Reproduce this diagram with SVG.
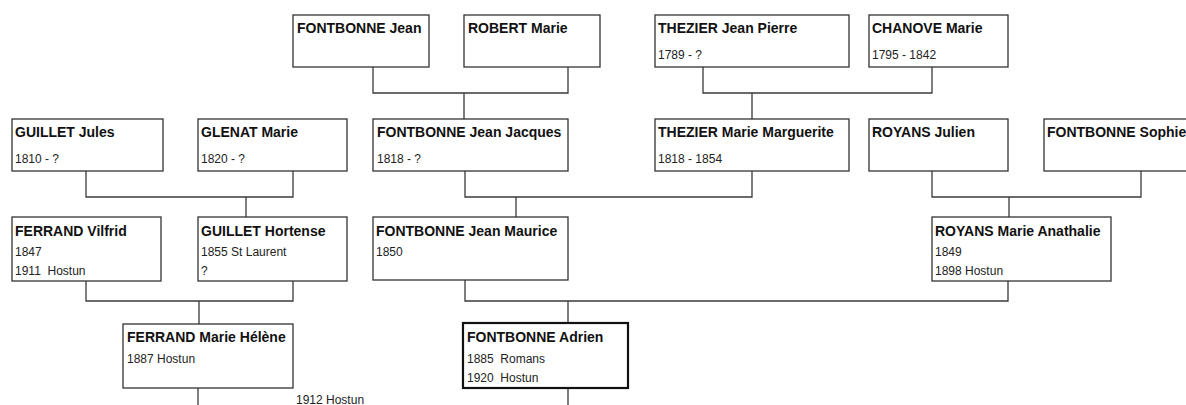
<svg xmlns="http://www.w3.org/2000/svg" width="1186" height="405" viewBox="0 0 1186 405">
  <style>
    .box { fill: #ffffff; stroke: #333333; stroke-width: 1.3; }
    .box.main { stroke: #111111; stroke-width: 2.2; }
    .name { font-family: "Liberation Sans", Arial, sans-serif; font-weight: bold; font-size: 14px; fill: #111111; }
    .info { font-family: "Liberation Sans", Arial, sans-serif; font-size: 12px; fill: #222222; white-space: pre; }
    .link { fill: none; stroke: #3a3a3a; stroke-width: 1.3; }
  </style>
  <rect width="1186" height="405" fill="#ffffff"/>

  <!-- family links: parents joined by a bar, a drop to the child -->
  <g id="connectors">
    <path class="link" d="M373,67 V93 H568 V67 M464,93 V119"/>
    <path class="link" d="M703,67 V93 H932 V67 M752,93 V119"/>
    <path class="link" d="M86,171 V197 H293 V171 M246,197 V217"/>
    <path class="link" d="M465,171 V197 H752 V171 M516,197 V217"/>
    <path class="link" d="M932,171 V197 H1141 V171 M1009,197 V217"/>
    <path class="link" d="M86,281 V301 H293 V281 M199,301 V324"/>
    <path class="link" d="M465,280 V301 H1008 V281 M568,301 V323"/>
    <path class="link" d="M198,388 V405"/>
    <path class="link" d="M568,388 V405"/>
  </g>

  <!-- generation 1 -->
  <g id="fontbonne-jean">
    <rect class="box" x="293" y="15" width="136" height="52"/>
    <text class="name" x="297" y="33">FONTBONNE Jean</text>
  </g>
  <g id="robert-marie">
    <rect class="box" x="464" y="15" width="136" height="52"/>
    <text class="name" x="468" y="33">ROBERT Marie</text>
  </g>
  <g id="thezier-jean-pierre">
    <rect class="box" x="655" y="15" width="194" height="52"/>
    <text class="name" x="658" y="33">THEZIER Jean Pierre</text>
    <text class="info" x="658" y="59">1789 - ?</text>
  </g>
  <g id="chanove-marie">
    <rect class="box" x="869" y="15" width="139" height="52"/>
    <text class="name" x="872" y="33">CHANOVE Marie</text>
    <text class="info" x="872" y="59">1795 - 1842</text>
  </g>

  <!-- generation 2 -->
  <g id="guillet-jules">
    <rect class="box" x="12" y="119" width="151" height="52"/>
    <text class="name" x="15" y="137">GUILLET Jules</text>
    <text class="info" x="15" y="163">1810 - ?</text>
  </g>
  <g id="glenat-marie">
    <rect class="box" x="198" y="119" width="149" height="52"/>
    <text class="name" x="201" y="137">GLENAT Marie</text>
    <text class="info" x="201" y="163">1820 - ?</text>
  </g>
  <g id="fontbonne-jean-jacques">
    <rect class="box" x="373" y="119" width="195" height="52"/>
    <text class="name" x="377" y="137">FONTBONNE Jean Jacques</text>
    <text class="info" x="377" y="163">1818 - ?</text>
  </g>
  <g id="thezier-marie-marguerite">
    <rect class="box" x="655" y="119" width="194" height="52"/>
    <text class="name" x="658" y="137">THEZIER Marie Marguerite</text>
    <text class="info" x="658" y="163">1818 - 1854</text>
  </g>
  <g id="royans-julien">
    <rect class="box" x="869" y="119" width="139" height="52"/>
    <text class="name" x="872" y="137">ROYANS Julien</text>
  </g>
  <g id="fontbonne-sophie">
    <rect class="box" x="1044" y="119" width="200" height="52"/>
    <text class="name" x="1047" y="137">FONTBONNE Sophie</text>
  </g>

  <!-- generation 3 -->
  <g id="ferrand-vilfrid">
    <rect class="box" x="12" y="217" width="149" height="64"/>
    <text class="name" x="15" y="236">FERRAND Vilfrid</text>
    <text class="info" x="15" y="256">1847</text>
    <text class="info" x="15" y="275">1911  Hostun</text>
  </g>
  <g id="guillet-hortense">
    <rect class="box" x="198" y="217" width="149" height="64"/>
    <text class="name" x="201" y="236">GUILLET Hortense</text>
    <text class="info" x="201" y="256">1855 St Laurent</text>
    <text class="info" x="201" y="275">?</text>
  </g>
  <g id="fontbonne-jean-maurice">
    <rect class="box" x="373" y="217" width="195" height="63"/>
    <text class="name" x="376" y="236">FONTBONNE Jean Maurice</text>
    <text class="info" x="376" y="256">1850</text>
  </g>
  <g id="royans-marie-anathalie">
    <rect class="box" x="932" y="217" width="179" height="64"/>
    <text class="name" x="935" y="236">ROYANS Marie Anathalie</text>
    <text class="info" x="935" y="256">1849</text>
    <text class="info" x="935" y="275">1898 Hostun</text>
  </g>

  <!-- generation 4 -->
  <g id="ferrand-marie-helene">
    <rect class="box" x="123" y="324" width="170" height="64"/>
    <text class="name" x="127" y="342">FERRAND Marie Hélène</text>
    <text class="info" x="127" y="363">1887 Hostun</text>
  </g>
  <g id="fontbonne-adrien">
    <rect class="box main" x="463" y="323" width="165" height="65"/>
    <text class="name" x="467" y="342">FONTBONNE Adrien</text>
    <text class="info" x="467" y="363">1885  Romans</text>
    <text class="info" x="467" y="382">1920  Hostun</text>
  </g>

  <!-- marriage note -->
  <text class="info" x="296" y="404">1912 Hostun</text>
</svg>
